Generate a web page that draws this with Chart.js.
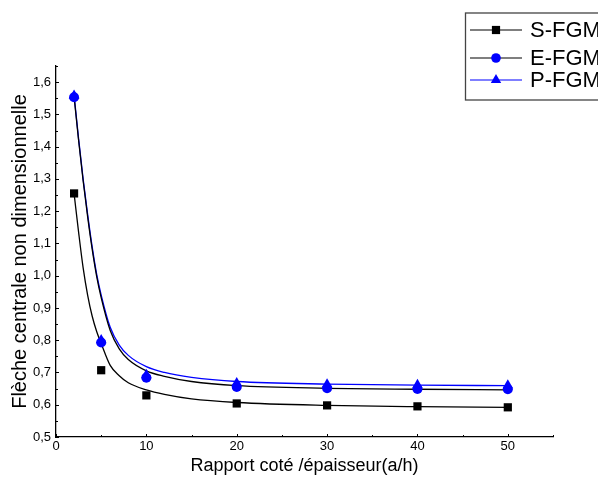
<!DOCTYPE html>
<html>
<head>
<meta charset="utf-8">
<script src="https://cdn.jsdelivr.net/npm/chart.js@4.4.1/dist/chart.umd.min.js"></script>
<style>
  body { margin: 0; background: #fff; }
  canvas { display: block; }
</style>
</head>
<body>
<canvas id="chart" width="598" height="477"></canvas>
<script>
// a/h ratios where the points were computed
const ratios = [2, 5, 10, 20, 30, 40, 50];
const sFgm = [1.255, 0.707, 0.629, 0.604, 0.598, 0.595, 0.592];
const eFgm = [1.553, 0.793, 0.684, 0.655, 0.651, 0.649, 0.648];
const pFgm = [1.558, 0.800, 0.692, 0.667, 0.663, 0.661, 0.660];

// fitted curves
const fitX = [2, 2.5, 3, 3.5, 4, 4.5, 5, 6, 7, 8, 10, 12, 15, 20, 30, 40, 50];
const sFit = [1.255, 1.135, 1.025, 0.94, 0.875, 0.827, 0.79, 0.722, 0.69, 0.668, 0.646, 0.632, 0.618, 0.607, 0.598, 0.594, 0.592];
const eFit = [1.555, 1.42, 1.295, 1.183, 1.083, 0.998, 0.932, 0.83, 0.773, 0.74, 0.705, 0.688, 0.672, 0.659, 0.651, 0.648, 0.646];
const pFit = [1.56, 1.425, 1.30, 1.19, 1.09, 1.005, 0.94, 0.84, 0.785, 0.753, 0.718, 0.70, 0.685, 0.672, 0.664, 0.661, 0.659];

const xTicks = [0, 10, 20, 30, 40, 50];
const yTicks = [0.5, 0.6, 0.7, 0.8, 0.9, 1.0, 1.1, 1.2, 1.3, 1.4, 1.5, 1.6];

const FONT = "'Liberation Sans', Arial, sans-serif";
const BLUE = "#0000ff";

const pts = (xs, ys) => xs.map((x, i) => ({ x: x, y: ys[i] }));

function fitLine(ys, color) {
  return {
    data: pts(fitX, ys), showLine: true, pointRadius: 0, borderColor: color,
    borderWidth: 1.3, cubicInterpolationMode: "monotone", order: 5
  };
}
function markers(label, ys, style, r) {
  return {
    label: label, data: pts(ratios, ys), showLine: false, pointStyle: style,
    pointRadius: r, backgroundColor: label === "S-FGM" ? "#000" : BLUE,
    borderColor: label === "S-FGM" ? "#000" : BLUE, borderWidth: 0, order: 1
  };
}

const legendItems = [
  { label: "S-FGM", line: "#000", fill: "#000", style: "rect", r: 5.8, y: 30 },
  { label: "E-FGM", line: "#000", fill: BLUE, style: "circle", r: 4.8, y: 58 },
  { label: "P-FGM", line: BLUE, fill: BLUE, style: "triangle", r: 6, y: 80 }
];

// small inward ticks like the original plot
const innerTicks = {
  id: "innerTicks",
  afterDraw(chart) {
    const { ctx, scales: { x, y } } = chart;
    ctx.save();
    ctx.strokeStyle = "#000";
    ctx.lineWidth = 1;
    for (let v = 0; v <= 55; v += 5) {
      const px = Math.round(x.getPixelForValue(v)) + 0.5;
      const len = v % 10 === 0 ? 3 : 2;
      ctx.beginPath(); ctx.moveTo(px, y.bottom); ctx.lineTo(px, y.bottom - len); ctx.stroke();
    }
    for (let k = 10; k <= 33; k++) {
      const py = Math.round(y.getPixelForValue(k * 0.05)) + 0.5;
      const len = k % 2 === 0 ? 3 : 2;
      ctx.beginPath(); ctx.moveTo(x.left, py); ctx.lineTo(x.left + len, py); ctx.stroke();
    }
    ctx.restore();
  }
};

const legendBox = {
  id: "legendBox",
  afterDraw(chart) {
    const ctx = chart.ctx;
    ctx.save();
    ctx.strokeStyle = "#444";
    ctx.lineWidth = 1.3;
    ctx.strokeRect(465.5, 13, 160, 87);
    ctx.font = "22px " + FONT;
    ctx.textBaseline = "middle";
    legendItems.forEach(it => {
      ctx.strokeStyle = it.line;
      ctx.lineWidth = 1.2;
      ctx.beginPath(); ctx.moveTo(470, it.y); ctx.lineTo(522, it.y); ctx.stroke();
      ctx.fillStyle = it.fill;
      ctx.strokeStyle = it.fill;
      Chart.helpers.drawPoint(ctx, { pointStyle: it.style, radius: it.r, rotation: 0, borderWidth: 0 }, 496, it.y);
      ctx.fillStyle = "#000";
      ctx.fillText(it.label, 530, it.y + 1);
    });
    ctx.restore();
  }
};

new Chart(document.getElementById("chart"), {
  type: "scatter",
  data: {
    datasets: [
      fitLine(sFit, "#000"),
      fitLine(eFit, "#000"),
      fitLine(pFit, BLUE),
      markers("S-FGM", sFgm, "rect", 5.8),
      markers("E-FGM", eFgm, "circle", 5),
      markers("P-FGM", pFgm, "triangle", 6.2)
    ]
  },
  options: {
    responsive: false,
    animation: false,
    layout: { padding: { top: 66, right: 45, left: 0, bottom: 0 } },
    plugins: { legend: { display: false }, tooltip: { enabled: false } },
    scales: {
      x: {
        type: "linear", min: 0, max: 55,
        afterFit: s => { s.height = 40; },
        afterBuildTicks: s => { s.ticks = xTicks.map(v => ({ value: v })); },
        grid: { display: false, drawTicks: false },
        border: { display: true, color: "#000", width: 1.3 },
        ticks: { color: "#000", font: { family: FONT, size: 13 }, padding: 2, maxRotation: 0 },
        title: { display: true, text: "Rapport coté /épaisseur(a/h)", color: "#000",
                 font: { family: FONT, size: 18 }, padding: { top: 0, bottom: 0 } }
      },
      y: {
        type: "linear", min: 0.5, max: 1.65,
        afterFit: s => { s.width = 56; },
        afterBuildTicks: s => { s.ticks = yTicks.map(v => ({ value: v })); },
        grid: { display: false, drawTicks: false },
        border: { display: true, color: "#000", width: 1.3 },
        ticks: { color: "#000", font: { family: FONT, size: 13 }, padding: 5,
                 callback: v => v.toFixed(1).replace(".", ",") },
        title: { display: true, text: "Flèche centrale non dimensionnelle", color: "#000",
                 font: { family: FONT, size: 20 }, padding: { top: 8, bottom: 0 } }
      }
    }
  },
  plugins: [innerTicks, legendBox]
});
</script>
</body>
</html>
